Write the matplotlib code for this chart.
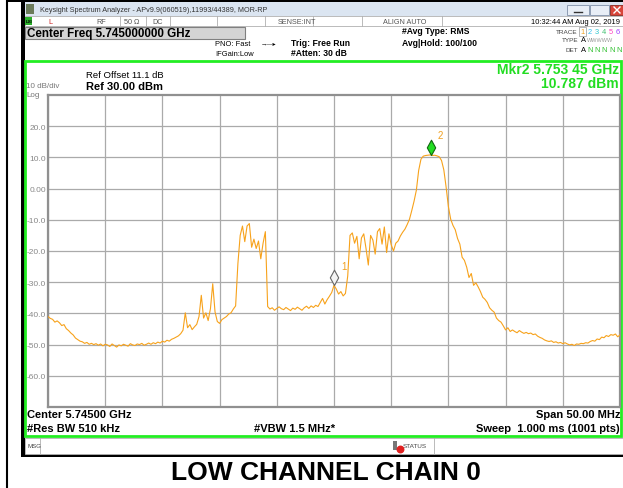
import numpy as np
import matplotlib
matplotlib.use("Agg")
import matplotlib.pyplot as plt
from matplotlib.path import Path
from matplotlib.patches import Rectangle

plt.rcParams['font.family'] = ['Liberation Sans', 'DejaVu Sans']

# ---------------- data ----------------
center_mhz = 5745.0
span_mhz = 50.0
ref_level = 30.0
db_per_div = 10.0
y_tick_values = [20, 10, 0, -10, -20, -30, -40, -50, -60]
y_tick_labels = ["20.0", "10.0", "0.00", "-10.0", "-20.0", "-30.0", "-40.0", "-50.0", "-60.0"]

# trace levels (dBm), one value every 0.2 MHz from 5720 to 5770 MHz
trace_dbm = [
    -41.0, -41.6, -41.9, -42.8, -42.4, -43.0, -43.9, -43.6, -44.9, -45.5,
    -46.3, -46.9, -47.9, -48.4, -48.9, -49.1, -49.6, -49.3, -49.9, -49.6,
    -50.0, -49.7, -50.2, -49.8, -50.4, -49.9, -50.1, -50.6, -49.8, -50.3,
    -50.8, -50.1, -50.4, -49.9, -50.2, -50.5, -49.7, -50.1, -50.3, -49.8,
    -50.0, -49.6, -50.2, -49.9, -49.5, -49.9, -49.4, -49.7, -49.2, -49.5,
    -48.9, -49.2, -48.6, -48.9, -48.3, -48.0, -47.6, -47.2, -46.5, -45.4,
    -39.8, -44.6, -43.6, -45.2, -44.3, -43.5, -41.0, -34.2, -41.5, -39.8,
    -42.3, -38.5, -30.5, -39.5, -42.6, -43.2, -42.0, -41.5, -41.0, -40.2,
    -39.8, -38.6, -37.6, -24.0, -15.0, -12.0, -17.0, -12.0, -11.2, -18.8,
    -16.2, -19.2, -16.8, -22.5, -17.5, -13.8, -37.8, -38.6, -38.2, -39.0,
    -38.4, -37.9, -38.5, -38.8, -38.1, -38.6, -39.1, -38.3, -38.7, -38.0,
    -38.5, -39.0, -38.2, -37.7, -38.4, -37.6, -38.1, -37.4, -37.8, -36.5,
    -35.2, -37.0, -35.6, -34.5, -33.3, -31.0, -32.2, -33.8, -33.0, -34.4,
    -33.6, -28.0, -15.0, -14.2, -17.5, -15.3, -22.5, -15.8, -14.5, -19.2,
    -24.5, -15.0, -16.5, -21.0, -13.8, -12.8, -17.8, -12.3, -20.5, -14.5,
    -18.0, -20.0, -17.5, -16.8, -15.2, -14.0, -13.0, -11.5, -9.8, -7.0,
    -4.0, -0.5, 5.8, 9.4, 10.4, 10.6, 10.7, 10.8, 10.6, 10.7,
    10.5, 10.2, 9.0, 6.0, 0.5, -5.8, -9.8, -11.8, -13.2, -16.0,
    -17.8, -22.0, -23.0, -25.2, -28.5, -27.2, -31.0, -30.2, -31.5, -33.0,
    -34.8, -35.5, -36.5, -38.2, -39.0, -39.6, -41.5, -42.3, -42.8, -44.0,
    -45.3, -44.6, -45.8, -45.3, -45.8, -46.2, -45.5, -46.0, -46.4, -46.1,
    -46.5, -46.3, -46.8, -46.6, -47.3, -47.7, -48.0, -48.5, -48.8, -49.0,
    -48.8, -49.3, -49.1, -49.5, -49.3, -49.7, -49.4, -49.8, -50.1, -49.9,
    -50.3, -49.8, -49.9, -49.6, -49.7, -49.4, -49.5, -49.0, -48.7, -48.9,
    -48.2, -48.4, -47.6, -47.8, -47.1, -47.4, -46.8, -47.0, -46.6, -47.5,
    -46.9,
]

marker_names = ["1", "2"]
marker_freq_mhz = [5745.0, 5753.45]
marker_dbm = [-31.0, 10.787]

title_text = "LOW CHANNEL CHAIN 0"

# ---------------- figure ----------------
W, H = 623, 489
fig = plt.figure(figsize=(W / 100, H / 100), dpi=100)
fig.patch.set_facecolor('white')

bg = fig.add_axes([0, 0, 1, 1])
bg.set_xlim(0, W)
bg.set_ylim(H, 0)
bg.axis('off')


def rect(x0, y0, x1, y1, fc='none', ec='none', lw=1.0, z=1):
    bg.add_patch(Rectangle((x0, y0), x1 - x0, y1 - y0, facecolor=fc,
                           edgecolor=ec, linewidth=lw, zorder=z))


def txt(x, y, s, size=7, weight='normal', color='black', ha='left', **kw):
    bg.text(x, y, s, fontsize=size, fontweight=weight, color=color, ha=ha,
            va='center', **kw)


# outer document frame
bg.plot([6.5, 6.5], [0, H], color='black', lw=1.5)
rect(7, 0, W, 3, fc='black')
# window left border and bottom
rect(21, 0, 25, 458, fc='black')
rect(21, 455, W, 458, fc='black')

# title bar
rect(25, 3, W, 17, fc='#dbe5f1')
rect(26, 5, 34, 15, fc='#6b7b5a')
txt(40, 10, "Keysight Spectrum Analyzer - APv9.9(060519),11993/44389, MOR-RP",
    size=5.2, color='#333333')
rect(567, 6, 589, 16, fc='#e8eef6', ec='#8090a8', lw=0.6)
rect(590, 6, 609, 16, fc='#e8eef6', ec='#8090a8', lw=0.6)
rect(610, 6, 623, 16, fc='#d8453a', ec='#8a2a22', lw=0.6)
bg.plot([574, 582], [13, 13], color='#333333', lw=1)
bg.plot([614, 620], [8, 14], color='white', lw=1)
bg.plot([614, 620], [14, 8], color='white', lw=1)

# status row
rect(25, 17, W, 27, fc='white', ec='#b0b0b0', lw=0.6)
rect(25, 18, 32, 26, fc='#2bb02b')
txt(25.5, 22, "LXI", size=3.2, weight='bold', color='black')
txt(48, 22, "L", size=5.2, color='#cc2222')
txt(96, 22, "RF", size=5.2, color='#555555')
txt(124, 22, "50 Ω", size=5.2, color='#555555')
txt(152, 22, "DC", size=5.2, color='#555555')
for sx in [120, 146, 170, 217, 265, 313, 362, 442]:
    bg.plot([sx, sx], [17, 27], color='#b0b0b0', lw=0.6)
txt(278, 22, "SENSE:INT", size=5.2, color='#555555')
txt(383, 22, "ALIGN AUTO", size=5.2, color='#555555')
txt(620, 22, "10:32:44 AM Aug 02, 2019", size=5.4, color='black', ha='right')

# settings row
rect(25, 28, 245, 40, fc='#d4d4d4', ec='#808080', lw=0.8)
txt(27, 34, "Center Freq 5.745000000 GHz", size=8.4, weight='bold')
txt(215, 45, "PNO: Fast", size=5.4)
txt(215, 54, "IFGain:Low", size=5.4)
txt(261, 44, "\u2192\u2014\u25b8", size=4.5)
txt(291, 43, "Trig: Free Run", size=6.2, weight='bold')
txt(291, 53, "#Atten: 30 dB", size=6.2, weight='bold')
txt(402, 32, "#Avg Type: RMS", size=6.2, weight='bold')
txt(402, 43, "Avg|Hold: 100/100", size=6.2, weight='bold')
txt(578, 32, "TRACE", size=4.6, color='#444444', ha='right')
txt(578, 41, "TYPE", size=4.6, color='#444444', ha='right')
txt(578, 50, "DET", size=4.6, color='#444444', ha='right')
rect(579, 27.5, 586, 36.5, fc='none', ec='#999999', lw=0.5)
trace_num_colors = ['#f0a020', '#30c0f0', '#30c8d0', '#40c070', '#ff40c0', '#a040ff']
for i, c in enumerate(trace_num_colors):
    txt(580.5 + i * 7.1, 32, str(i + 1), size=5.4, color=c)
txt(580.5, 41, "A", size=5.4)
txt(587, 41, "WWWWW", size=4.0, color='#999999')
txt(580.5, 50, "A", size=5.4)
for i in range(5):
    txt(587.6 + i * 7.1, 50, "N", size=5.4, color='#30c030')

# main green panel
rect(25, 62, 621, 437, fc='none', ec='#22ee22', lw=2.0, z=2)
txt(619, 70, "Mkr2 5.753 45 GHz", size=10, weight='bold', color='#22dd22', ha='right')
txt(619, 84, "10.787 dBm", size=10, weight='bold', color='#22dd22', ha='right')
txt(86, 76, "Ref Offset 11.1 dB", size=6.8)
txt(86, 87, "Ref 30.00 dBm", size=8.0, weight='bold')
txt(26, 86.5, "10 dB/div", size=5.8, color='#777777')
txt(26, 95.5, "Log", size=5.8, color='#777777')

txt(27, 415, "Center 5.74500 GHz", size=8.0, weight='bold')
txt(620, 415, "Span 50.00 MHz", size=8.0, weight='bold', ha='right')
txt(27, 429, "#Res BW 510 kHz", size=8.0, weight='bold')
txt(254, 429, "#VBW 1.5 MHz*", size=8.0, weight='bold')
txt(620, 429, "Sweep  1.000 ms (1001 pts)", size=8.0, weight='bold', ha='right')

# message bar
rect(25, 439, W, 455, fc='white', ec='#b0b0b0', lw=0.6)
txt(27, 447, "MSG", size=4.4, color='#444444')
bg.plot([40, 40], [439, 455], color='#b0b0b0', lw=0.6)
rect(393, 442, 397, 451, fc='#777777')
bg.scatter([400], [450], s=22, color='#e02020', zorder=5)
txt(403, 447, "STATUS", size=4.6, color='#444444')
bg.plot([434, 434], [439, 455], color='#b0b0b0', lw=0.6)

# page title
txt(W / 2 + 14, 473, title_text, size=19, weight='bold', ha='center')

# ---------------- spectrum graticule ----------------
x0, x1, y0, y1 = 48, 620, 96, 408
ax = fig.add_axes([x0 / W, 1 - y1 / H, (x1 - x0) / W, (y1 - y0) / H])
ax.set_facecolor('white')
f_start = center_mhz - span_mhz / 2
f_stop = center_mhz + span_mhz / 2
freqs = np.linspace(f_start, f_stop, len(trace_dbm))
ax.set_xlim(f_start, f_stop)
ax.set_ylim(ref_level - 10 * db_per_div, ref_level)
ax.set_xticks(np.arange(f_start, f_stop + 0.1, span_mhz / 10))
ax.set_xticklabels([])
ax.set_yticks(y_tick_values)
ax.set_yticklabels(y_tick_labels)
ax.tick_params(length=0, pad=1.5, labelsize=6, labelcolor='#888888')
ax.grid(True, color='#aaaaaa', lw=0.9)
for s in ax.spines.values():
    s.set_color('#909090')
    s.set_linewidth(1.6)

ax.plot(freqs, trace_dbm, color='#f7a21b', lw=0.8, zorder=3)

diamond = Path([(0, 0), (0.55, 1), (0, 2), (-0.55, 1), (0, 0)],
               [Path.MOVETO, Path.LINETO, Path.LINETO, Path.LINETO, Path.CLOSEPOLY])
mk_face = ['#f4f4f4', '#22dd22']
mk_edge = ['#666666', '#116611']
for name, f, v, fc, ec in zip(marker_names, marker_freq_mhz, marker_dbm, mk_face, mk_edge):
    ax.plot([f], [v], marker=diamond, markersize=22, markerfacecolor=fc,
            markeredgecolor=ec, markeredgewidth=0.8, linestyle='none', zorder=5)
    ax.annotate(name, (f, v), xytext=(5, 12), textcoords='offset points',
                fontsize=7, color='#f0a020', zorder=6)

fig.savefig("out.png", dpi=100)
